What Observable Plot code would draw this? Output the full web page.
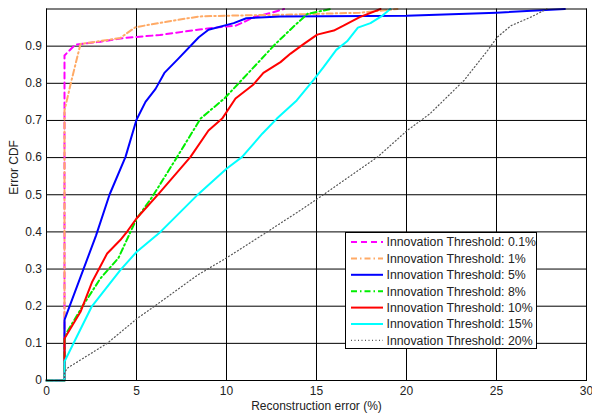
<!DOCTYPE html>
<html><head><meta charset="utf-8">
<script src="https://cdn.jsdelivr.net/npm/d3@7"></script>
<script src="https://cdn.jsdelivr.net/npm/@observablehq/plot@0.6"></script>
<style>
body{margin:0;background:#fff;font-family:"Liberation Sans",Arial,sans-serif;}
#wrap{position:relative;width:592px;height:414px;}
</style></head><body><div id="wrap"></div>
<script>
// ---- data ----
const seriesNames = ["Innovation Threshold: 0.1%","Innovation Threshold: 1%","Innovation Threshold: 5%","Innovation Threshold: 8%","Innovation Threshold: 10%","Innovation Threshold: 15%","Innovation Threshold: 20%"];
const xTicks = [0,5,10,15,20,25,30];
const yTicks = [0,0.1,0.2,0.3,0.4,0.5,0.6,0.7,0.8,0.9];

const x01 = [0,1,1,1.6,3,4.3,6.3,8.5,10,10.5,11.1,11.5,12.5,13.2];
const y01 = [0,0,0.875,0.904,0.912,0.922,0.93,0.945,0.953,0.955,0.968,0.978,0.99,1.0];

const x1 = [0,1,1,1.39,1.89,2.5,4.1,4.94,7.07,8.5,10,13.6,17.4,19.5];
const y1 = [0,0,0.727,0.808,0.906,0.91,0.922,0.951,0.969,0.98,0.982,0.985,0.99,1.0];

const x5 = [0,1,1,2.75,3.5,4.39,5.0,5.5,6.06,6.55,7.3,8.46,9.0,10.4,11.1,13,20,25,28.8];
const y5 = [0,0,0.163,0.39,0.5,0.602,0.702,0.75,0.785,0.828,0.865,0.924,0.944,0.962,0.975,0.98,0.982,0.99,1.0];

const x8 = [0,1,1,1.15,2,3.0,4.0,5.0,5.87,7.26,8.56,9.9,11.7,12.7,13.8,14.5,15.8];
const y8 = [0,0,0.11,0.131,0.2,0.275,0.33,0.435,0.494,0.602,0.705,0.76,0.853,0.905,0.956,0.987,1.0];

const x10 = [0,1,1,1.89,2.54,3.37,4.1,4.48,5.0,6.24,8.0,9.0,9.76,10.5,11.5,12.05,13,13.56,14.3,15.04,15.96,16.5,17.4,18.56];
const y10 = [0,0,0.113,0.185,0.266,0.342,0.378,0.401,0.436,0.503,0.602,0.673,0.705,0.759,0.797,0.828,0.857,0.88,0.906,0.931,0.942,0.955,0.978,1.0];

const x15 = [0,1,1,2.5,4.1,5.0,6.33,8.46,10.0,10.87,12,12.8,13.9,14.85,15.4,16.1,16.7,17.3,18,18.6,19.1];
const y15 = [0,0,0.051,0.198,0.297,0.346,0.4,0.503,0.57,0.602,0.665,0.705,0.754,0.81,0.844,0.89,0.913,0.95,0.962,0.98,1.0];

const x20 = [0,1,1,1.15,3.37,5.04,6,8.4,10,12.26,14.1,15.2,18.4,20.04,21.3,23.2,24.5,25.04,25.8,26.9,27.8];
const y20 = [0,0,0.02,0.033,0.1,0.167,0.2,0.284,0.33,0.4,0.458,0.494,0.602,0.673,0.718,0.808,0.888,0.924,0.955,0.978,1.0];

const xsAll = [x01,x1,x5,x8,x10,x15,x20];
const ysAll = [y01,y1,y5,y8,y10,y15,y20];

// ---- styles ----
const styles = [
  {stroke:"#ff00ff", strokeWidth:2, dash:"6,4"},
  {stroke:"#ffaa66", strokeWidth:2, dash:"6,3,1.5,3"},
  {stroke:"#0000ff", strokeWidth:2, dash:null},
  {stroke:"#00ee00", strokeWidth:2, dash:"6,3,1.5,3"},
  {stroke:"#ff0000", strokeWidth:2, dash:null},
  {stroke:"#00ffff", strokeWidth:2, dash:null},
  {stroke:"#555555", strokeWidth:1.2, dash:"1,2.5"}
];

const lineMarks = seriesNames.map((name, i) => {
  const data = xsAll[i].map((x, j) => ({x, y: ysAll[i][j]}));
  const s = styles[i];
  return Plot.line(data, {x:"x", y:"y", stroke:s.stroke, strokeWidth:s.strokeWidth, strokeDasharray:s.dash, curve:"linear"});
});

const chart = Plot.plot({
  width: 592, height: 414,
  marginLeft: 46, marginRight: 6, marginTop: 8.5, marginBottom: 34,
  style: {fontFamily:"'Liberation Sans', Arial, sans-serif", fontSize:"12px", color:"#222", background:"#fff"},
  x: {domain:[0,30], label:null},
  y: {domain:[0,1], label:null},
  marks: [
    Plot.gridX(xTicks, {stroke:"#000", strokeOpacity:1, strokeWidth:1}),
    Plot.gridY(yTicks, {stroke:"#000", strokeOpacity:1, strokeWidth:1}),
    Plot.axisX(xTicks, {tickSize:0, tickPadding:5.5, fontSize:12, tickFormat:d=>String(d)}),
    Plot.axisY(yTicks, {tickSize:0, tickPadding:4.5, fontSize:12, tickFormat:d=> d===0 ? "0" : d.toFixed(1)}),
    ...lineMarks,
    Plot.frame({stroke:"#000", strokeWidth:1}),
    Plot.text(["Reconstruction error (%)"], {frameAnchor:"bottom", lineAnchor:"middle", dy:25.5, fontSize:12, fill:"#222"}),
    Plot.text(["Error CDF"], {frameAnchor:"left", rotate:-90, dx:-32, fontSize:12, fill:"#222"})
  ]
});
const wrap = document.getElementById("wrap");
wrap.appendChild(chart);

// ---- legend (inside plot) ----
const lw = 192, lh = 117;
const leg = d3.create("svg").attr("width", lw).attr("height", lh)
  .style("position","absolute").style("left","345px").style("top","232px");
leg.append("rect").attr("x",0.5).attr("y",0.5).attr("width",lw-1).attr("height",lh-1).attr("fill","#fff").attr("stroke","#000");
seriesNames.forEach((name, i) => {
  const cy = 10 + i*16.4;
  const s = styles[i];
  leg.append("line").attr("x1",6).attr("x2",38).attr("y1",cy).attr("y2",cy)
    .attr("stroke",s.stroke).attr("stroke-width",s.strokeWidth).attr("stroke-dasharray",s.dash);
  leg.append("text").attr("x",41.5).attr("y",cy).attr("dy","0.36em")
    .attr("font-family","'Liberation Sans', Arial, sans-serif").attr("font-size",12.3).attr("fill","#222").text(name);
});
wrap.appendChild(leg.node());
</script>
</body></html>
